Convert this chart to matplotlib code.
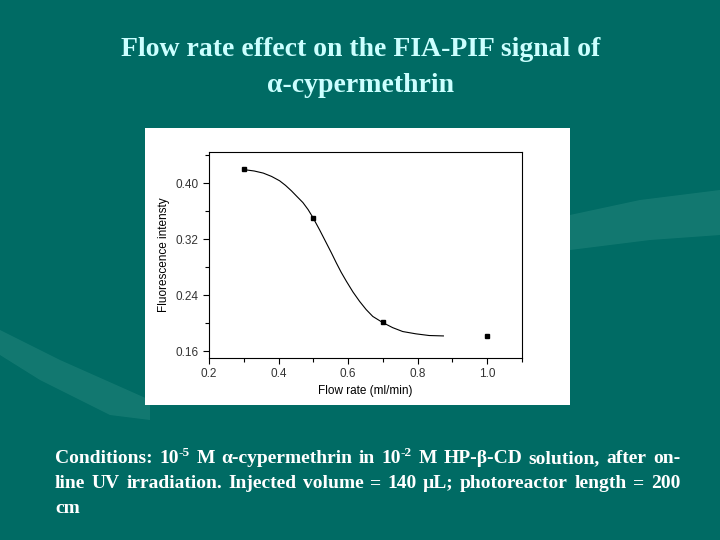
import matplotlib
matplotlib.use("Agg")
import matplotlib.pyplot as plt
from matplotlib.patches import Rectangle, Polygon
from matplotlib.ticker import MultipleLocator

# ---- data ----
flow_rate = [0.3, 0.5, 0.7, 1.0]
intensity = [0.420, 0.350, 0.201, 0.181]
fit_x = [0.303, 0.330, 0.356, 0.380, 0.403, 0.420, 0.437, 0.453, 0.470, 0.485,
         0.499, 0.518, 0.537, 0.552, 0.566, 0.580, 0.595, 0.614, 0.633, 0.652,
         0.671, 0.699, 0.728, 0.757, 0.795, 0.833, 0.874]
fit_y = [0.4196, 0.4178, 0.4148, 0.4100, 0.4038, 0.3972, 0.3894, 0.3812, 0.3726,
         0.3625, 0.3510, 0.3335, 0.3151, 0.3005, 0.2863, 0.2728, 0.2599, 0.2445,
         0.2311, 0.2193, 0.2095, 0.2009, 0.1935, 0.1879, 0.1846, 0.1822, 0.1816]
x_ticks = [0.2, 0.4, 0.6, 0.8, 1.0]
y_ticks = [0.16, 0.24, 0.32, 0.40]

title_lines = ["Flow rate effect on the FIA-PIF signal of", "\u03b1-cypermethrin"]
# '^' marks a superscript segment inside a word
caption_lines = [
    "Conditions: 10^-5 M \u03b1-cypermethrin in 10^-2 M HP-\u03b2-CD solution, after on-",
    "line UV irradiation. Injected volume = 140 \u00b5L; photoreactor length = 200",
    "cm",
]

W, H = 720, 540
bg = '#006b64'
fig = plt.figure(figsize=(7.2, 5.4), dpi=100, facecolor=bg)

def px(x, y):
    return (x / W, 1 - y / H)

# decorative lighter swooshes
sw = '#2a8a80'
fig.patches.append(Polygon([px(0, 330), px(60, 360), px(150, 400), px(150, 420),
                            px(110, 415), px(40, 380), px(0, 355)],
                           closed=True, transform=fig.transFigure,
                           facecolor=sw, edgecolor='none', alpha=0.45, zorder=0))
fig.patches.append(Polygon([px(570, 215), px(640, 200), px(720, 190), px(720, 235),
                            px(650, 240), px(570, 250)],
                           closed=True, transform=fig.transFigure,
                           facecolor=sw, edgecolor='none', alpha=0.45, zorder=0))

# white panel
x0, y0 = px(145, 405)
fig.patches.append(Rectangle((x0, y0), 425 / W, 277 / H, transform=fig.transFigure,
                             facecolor='white', edgecolor='none', zorder=1))

# axes
l, b = px(209, 358)
ax = fig.add_axes([l, b, (522 - 209) / W, (358 - 152) / H], zorder=2)
ax.set_facecolor('white')
ax.plot(fit_x, fit_y, color='black', lw=0.8)
ax.plot(flow_rate, intensity, 's', color='black', ms=3.5)
ax.set_xlim(0.2, 1.1)
ax.set_ylim(0.15, 0.445)
ax.set_xticks(x_ticks)
ax.set_xticklabels([f"{v:.1f}" for v in x_ticks])
ax.set_yticks(y_ticks)
ax.set_yticklabels([f"{v:.2f}" for v in y_ticks])
ax.xaxis.set_minor_locator(MultipleLocator(0.1))
ax.yaxis.set_minor_locator(MultipleLocator(0.04))
ax.tick_params(which='both', direction='out', top=False, right=False,
               labelsize=8.5, labelcolor='#333333', width=0.8)
ax.tick_params(which='major', length=4)
ax.tick_params(which='minor', length=3)
for s in ax.spines.values():
    s.set_linewidth(0.8)
for lab in ax.get_xticklabels() + ax.get_yticklabels():
    lab.set_fontfamily('Liberation Sans')
ax.set_xlabel("Flow rate (ml/min)", fontsize=8.5, family='Liberation Sans', labelpad=3)
ax.set_ylabel("Fluorescence intensty", fontsize=8.5, family='Liberation Sans', labelpad=4)

# title
for i, t in enumerate(title_lines):
    fig.text(361 / W, 1 - (50 + 35 * i) / H, t, ha='center', va='center',
             fontsize=20, fontweight='bold', family='Liberation Serif', color='#ccffff')

# caption (justified for first two lines)
renderer = fig.canvas.get_renderer()
left_px, right_px = 55, 680
base_kw = dict(fontweight='bold', family='Liberation Serif',
               color='white', va='baseline', ha='left')
MAIN, SUP, RAISE = 14, 9.5, 7

def make_word(word):
    parts = []
    if '^' in word:
        a, b2 = word.split('^')
        parts.append((a, False))
        parts.append((b2, True))
    else:
        parts.append((word, False))
    items = []
    for txt, sup in parts:
        t = fig.text(0, 0, txt, fontsize=SUP if sup else MAIN, **base_kw)
        items.append((t, sup, t.get_window_extent(renderer).width))
    return items

def place_word(items, xstart, ybase):
    xc = xstart
    for t, sup, wdt in items:
        t.set_position((xc / W, 1 - (ybase - (RAISE if sup else 0)) / H))
        xc += wdt + (1 if sup else 0)

for i, line in enumerate(caption_lines):
    ypx = 463 + 25 * i
    words = [make_word(w) for w in line.split(' ')]
    widths = [sum(it[2] for it in w) for w in words]
    if i < 2 and len(words) > 1:
        gap = (right_px - left_px - sum(widths)) / (len(words) - 1)
    else:
        gap = 4
    xcur = left_px
    for w, wdt in zip(words, widths):
        place_word(w, xcur, ypx)
        xcur += wdt + gap

fig.savefig("out.png", dpi=100, facecolor=bg)
